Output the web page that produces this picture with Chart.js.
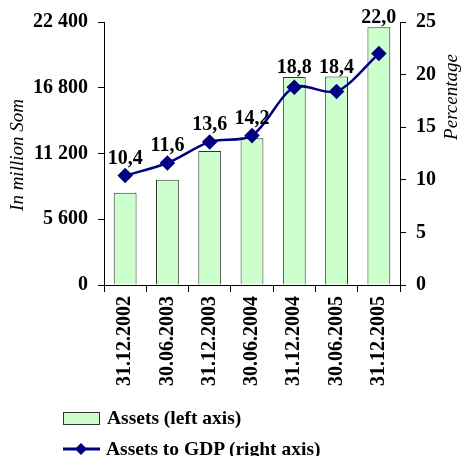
<!DOCTYPE html>
<html>
<head>
<meta charset="utf-8">
<script src="https://cdn.jsdelivr.net/npm/chart.js@4/dist/chart.umd.min.js"></script>
<style>
  body { margin: 0; background: #fff; }
  #wrap { position: relative; width: 462px; height: 456px; }
  .legend { position: absolute; left: 63px; font: bold 19.5px "Liberation Serif", serif; color: #000;
            display: flex; align-items: center; white-space: nowrap; line-height: 22px; }
  .box { display: inline-block; width: 35px; height: 11px; background: #ccffcc; border: 1px solid #333; margin-right: 7px; }
</style>
</head>
<body>
<div id="wrap">
  <canvas id="assetsChart" width="462" height="456"></canvas>
  <div class="legend" style="top:407px"><span class="box"></span>Assets (left axis)</div>
  <div class="legend" style="top:438px">
    <svg width="37" height="14" style="margin-right:6px"><line x1="0" y1="7" x2="37" y2="7" stroke="#000080" stroke-width="3"/><path d="M18 1 L24 7 L18 13 L12 7Z" fill="#000080"/></svg>Assets to GDP (right axis)
  </div>
</div>
<script>
const dates = ['31.12.2002', '30.06.2003', '31.12.2003', '30.06.2004', '31.12.2004', '30.06.2005', '31.12.2005'];
const assets = [7860, 8970, 11410, 12490, 17720, 17750, 21950];
const assetsToGdp = [10.4, 11.6, 13.6, 14.2, 18.8, 18.4, 22.0];
const leftTicks = [0, 5600, 11200, 16800, 22400];
const rightTicks = [0, 5, 10, 15, 20, 25];

const tickFont = { family: 'Liberation Serif', size: 20, weight: 'bold' };
const fmt = v => String(v).replace(/\B(?=(\d{3})+(?!\d))/g, ' ');

// value labels over the line + rotated axis titles
const extras = {
  id: 'extras',
  afterDatasetsDraw(chart) {
    const ctx = chart.ctx;
    const bars = chart.getDatasetMeta(0).data;
    const pts = chart.getDatasetMeta(1).data;
    ctx.save();
    ctx.fillStyle = '#000';
    ctx.font = 'bold 20px "Liberation Serif"';
    ctx.textAlign = 'center';
    ctx.textBaseline = 'alphabetic';
    pts.forEach((pt, i) => {
      const y = Math.min(pt.y - 12, bars[i].y - 4);
      ctx.fillText(assetsToGdp[i].toFixed(1).replace('.', ','), pt.x, y);
    });
    ctx.font = 'italic 19px "Liberation Serif"';
    ctx.textBaseline = 'middle';
    ctx.translate(18, 155);
    ctx.rotate(-Math.PI / 2);
    ctx.fillText('In million Som', 0, 0);
    ctx.restore();
    ctx.save();
    ctx.fillStyle = '#000';
    ctx.font = 'italic 19px "Liberation Serif"';
    ctx.textAlign = 'center';
    ctx.textBaseline = 'middle';
    ctx.translate(452, 97);
    ctx.rotate(-Math.PI / 2);
    ctx.fillText('Percentage', 0, 0);
    ctx.restore();
  }
};

const ctx = document.getElementById('assetsChart').getContext('2d');
new Chart(ctx, {
  type: 'bar',
  data: {
    labels: dates,
    datasets: [
      {
        label: 'Assets (left axis)',
        data: assets,
        yAxisID: 'y',
        backgroundColor: '#ccffcc',
        borderColor: '#333',
        borderWidth: 1,
        barPercentage: 0.54,
        categoryPercentage: 1,
        order: 1
      },
      {
        type: 'line',
        label: 'Assets to GDP (right axis)',
        data: assetsToGdp,
        yAxisID: 'y1',
        borderColor: '#000080',
        backgroundColor: '#000080',
        borderWidth: 2.5,
        tension: 0.3,
        pointStyle: 'rectRot',
        pointRadius: 6,
        order: 0
      }
    ]
  },
  options: {
    responsive: false,
    animation: false,
    devicePixelRatio: 1,
    layout: { padding: { top: 22, bottom: 66, left: 0, right: 0 } },
    plugins: {
      legend: { display: false },
      tooltip: { enabled: false }
    },
    scales: {
      x: {
        grid: { drawOnChartArea: false, tickLength: 7, color: '#000', offset: true },
        border: { color: '#000' },
        ticks: { minRotation: 90, maxRotation: 90, color: '#000', font: tickFont, padding: 4 },
        afterFit(s) { s.height = 105; }
      },
      y: {
        position: 'left',
        min: 0,
        max: 22400,
        grid: { drawOnChartArea: false, tickLength: 6, color: '#000' },
        border: { color: '#000' },
        ticks: { color: '#000', font: tickFont, padding: 10, callback: v => fmt(v) },
        afterBuildTicks(s) { s.ticks = leftTicks.map(v => ({ value: v })); },
        afterFit(s) { s.width = 104; }
      },
      y1: {
        position: 'right',
        min: 0,
        max: 25,
        grid: { drawOnChartArea: false, tickLength: 6, color: '#000' },
        border: { color: '#000' },
        ticks: { color: '#000', font: tickFont, padding: 10 },
        afterBuildTicks(s) { s.ticks = rightTicks.map(v => ({ value: v })); },
        afterFit(s) { s.width = 62; }
      }
    }
  },
  plugins: [extras]
});
</script>
</body>
</html>
